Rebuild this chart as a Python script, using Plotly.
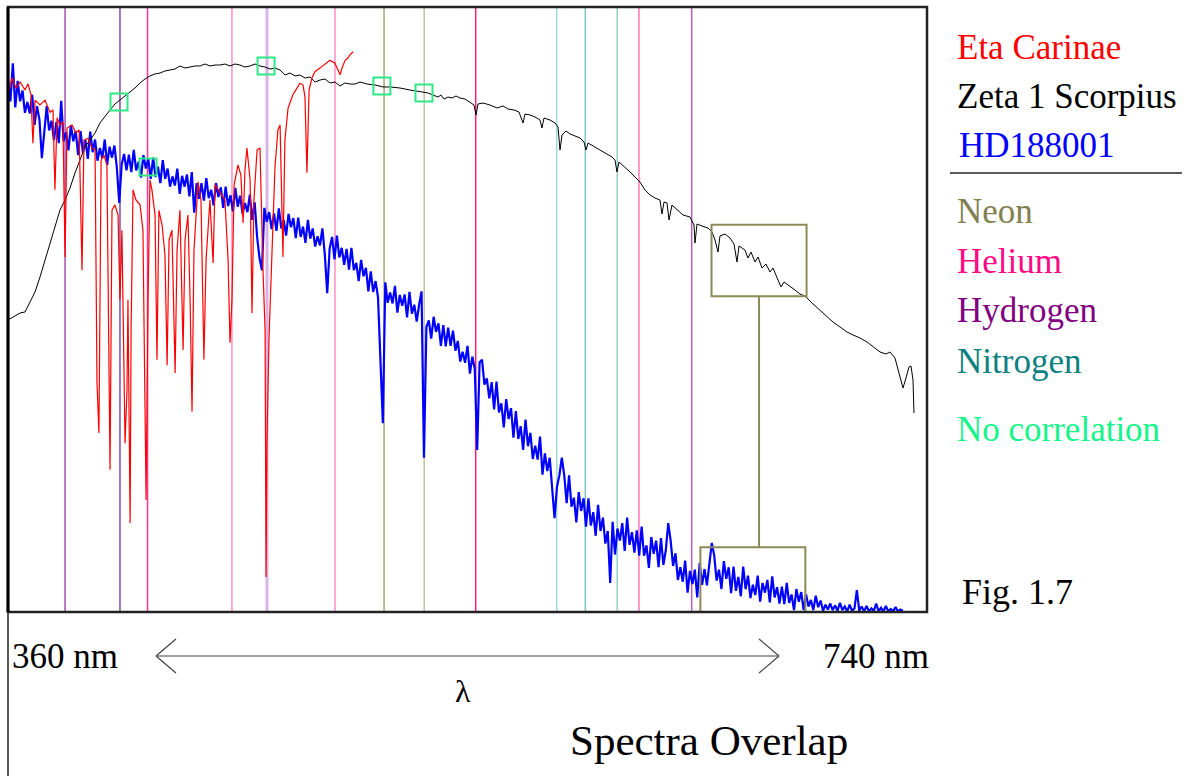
import plotly.graph_objects as go

# ---------------- data (wavelength in nm, relative flux 0-100) ----------------
blue_nm = list(range(360, 731))
blue_flux = [
    88.0, 84.4, 90.7, 83.4, 87.8, 84.4, 86.2, 82.5, 84.3, 82.4,
    85.5, 80.5, 83.6, 81.4, 75.0, 79.1, 83.6, 79.6, 81.2, 78.0,
    81.0, 77.5, 84.5, 77.8, 79.3, 76.3, 80.5, 77.8, 79.5, 75.5,
    79.5, 75.9, 78.0, 74.9, 79.4, 76.0, 78.1, 74.6, 76.7, 75.0,
    78.1, 73.9, 76.9, 75.1, 77.1, 73.5, 67.6, 74.0, 75.7, 73.0,
    75.6, 72.7, 76.4, 73.0, 74.4, 71.8, 75.5, 73.3, 74.9, 71.6,
    75.1, 71.9, 73.6, 70.9, 74.7, 71.6, 73.3, 70.3, 72.0, 70.5,
    73.3, 69.1, 72.1, 70.3, 72.3, 68.7, 72.7, 66.0, 70.9, 68.3,
    70.9, 68.0, 71.7, 68.4, 69.8, 67.2, 70.9, 68.6, 70.2, 66.8,
    70.3, 67.1, 68.9, 66.2, 70.1, 67.0, 68.8, 65.8, 67.6, 66.1,
    69.0, 64.8, 67.7, 62.0, 58.5, 56.5, 66.8, 64.5, 66.1, 63.3,
    65.9, 63.0, 66.7, 63.4, 64.8, 62.2, 65.8, 63.6, 65.1, 61.8,
    65.2, 62.0, 63.7, 61.0, 64.8, 61.7, 63.4, 60.4, 62.1, 60.6,
    63.4, 59.1, 52.7, 60.1, 62.0, 58.3, 62.2, 58.6, 60.2, 57.4,
    60.0, 56.6, 60.2, 56.5, 57.7, 54.7, 58.2, 55.5, 56.9, 53.0,
    56.3, 52.9, 54.7, 52.0, 40.0, 31.2, 54.5, 51.1, 52.8, 51.0,
    53.9, 49.5, 52.4, 50.6, 52.5, 48.7, 52.9, 49.3, 50.8, 48.0,
    50.8, 53.0, 25.5, 47.1, 48.2, 45.2, 48.8, 46.3, 47.7, 44.0,
    47.4, 43.9, 47.0, 44.0, 46.5, 43.2, 44.8, 41.4, 43.0, 41.2,
    44.0, 39.4, 42.2, 40.2, 26.8, 41.3, 41.7, 37.6, 38.6, 35.3,
    38.0, 33.5, 38.1, 33.0, 34.5, 30.5, 35.2, 31.9, 33.7, 28.8,
    33.2, 28.6, 30.7, 26.8, 31.8, 27.4, 29.6, 25.3, 27.5, 25.2,
    29.0, 22.7, 26.2, 23.3, 25.5, 20.0, 15.5, 20.7, 22.6, 25.5,
    22.6, 18.0, 22.6, 17.4, 18.9, 14.8, 19.8, 16.7, 18.8, 14.1,
    18.8, 14.3, 16.5, 12.6, 17.7, 13.4, 15.6, 11.3, 13.4, 4.8,
    14.9, 9.5, 13.8, 11.8, 14.7, 10.1, 15.6, 11.1, 13.2, 9.8,
    13.5, 9.3, 14.1, 9.3, 11.0, 7.3, 12.4, 9.6, 11.8, 7.4,
    12.2, 7.8, 10.2, 14.7, 11.8, 7.6, 9.7, 5.3, 7.4, 5.0,
    8.5, 3.2, 6.8, 4.6, 7.0, 2.4, 8.1, 4.5, 7.1, 4.4,
    8.4, 11.4, 9.4, 5.2, 7.0, 3.8, 8.4, 5.5, 7.4, 3.1,
    7.5, 3.5, 5.8, 2.6, 7.5, 3.8, 6.0, 2.3, 4.5, 2.8,
    6.0, 1.7, 4.8, 3.2, 5.3, 1.6, 5.9, 2.4, 4.1, 1.4,
    4.2, 1.3, 4.8, 1.5, 2.9, 0.3, 3.8, 1.7, 3.3, 0.3,
    2.9, 0.9, 2.0, 0.3, 2.7, 0.8, 1.9, 0.2, 1.2, 0.4,
    1.4, 0.3, 1.1, 0.2, 1.5, 0.3, 0.9, 0.1, 1.2, 0.2,
    0.6, 3.6, 0.2, 0.9, 0.1, 1.0, 0.1, 0.6, 0.2, 1.4,
    0.1, 0.7, 0.1, 1.0, 0.1, 0.5, 0.1, 0.8, 0.1, 0.4,
    0.2,
]

red_nm = [
    360.0, 361.7, 363.3, 365.0, 367.0, 368.3, 369.5, 370.3, 371.2, 373.2,
    375.3, 377.4, 378.6, 379.4, 380.3, 381.5, 382.7, 383.6, 384.4, 386.5,
    388.1, 389.4, 390.6, 391.4, 393.1, 394.7, 396.0, 396.8, 397.6, 398.5,
    399.7, 400.9, 402.2, 403.0, 404.2, 405.5, 406.3, 407.1, 408.4, 409.2,
    409.6, 410.5, 410.9, 411.7, 412.9, 414.6, 415.8, 417.1, 417.9, 418.7,
    419.5, 420.8, 421.6, 422.4, 423.7, 424.9, 425.8, 426.6, 427.8, 429.1,
    429.9, 431.1, 432.4, 433.2, 434.4, 435.3, 436.1, 436.9, 438.6, 439.8,
    441.0, 441.9, 443.5, 444.8, 445.6, 447.7, 449.7, 451.0, 451.8, 452.6,
    453.5, 455.1, 456.3, 457.2, 458.0, 458.8, 460.1, 460.9, 461.7, 463.0,
    464.2, 465.4, 466.3, 466.7, 467.1, 467.9, 469.2, 470.4, 471.6, 472.5,
    473.7, 474.5, 475.8, 477.8, 479.5, 480.7, 482.0, 482.8, 483.6, 484.5,
    485.7, 486.9, 489.0, 491.1, 493.1, 495.2, 496.5, 497.3, 498.1, 499.4,
    500.6, 501.4, 502.7,
]
red_flux = [
    85.5, 88.3, 86.6, 87.6, 86.3, 87.3, 85.5, 77.5, 84.6, 83.8,
    84.6, 82.6, 83.0, 69.8, 81.7, 80.5, 81.0, 58.7, 80.0, 80.5,
    79.2, 79.7, 56.5, 78.0, 78.3, 76.7, 76.4, 37.9, 29.6, 74.7,
    75.5, 73.9, 23.5, 66.4, 67.3, 65.6, 51.6, 63.1, 27.9, 36.7,
    51.6, 14.7, 46.6, 69.8, 68.1, 67.3, 63.1, 18.5, 51.6, 71.4,
    69.8, 65.6, 41.7, 66.4, 64.0, 59.0, 40.8, 61.5, 63.1, 39.5,
    59.8, 66.4, 43.3, 61.5, 65.6, 51.6, 33.1, 59.8, 71.1, 68.1,
    41.7, 58.2, 68.1, 57.7, 70.6, 69.4, 68.1, 58.2, 44.5, 51.6,
    70.6, 73.9, 72.2, 64.3, 73.1, 76.7, 71.4, 49.4, 68.1, 76.4,
    76.7, 56.9, 46.6, 5.8, 28.4, 45.0, 61.5, 73.6, 79.7, 80.5,
    58.7, 78.0, 83.3, 85.5, 86.6, 87.4, 87.1, 85.1, 72.6, 86.3,
    88.3, 89.3, 89.9, 90.6, 91.2, 90.7, 89.6, 88.8, 89.9, 91.2,
    91.6, 92.1, 92.6,
]

black_nm = [
    360.00, 362.89, 364.96, 367.03, 368.27, 369.10, 371.16, 373.23, 375.30, 377.37,
    379.43, 381.50, 383.57, 385.64, 387.70, 389.77, 391.84, 393.91, 395.97, 398.04,
    400.11, 402.18, 404.24, 406.31, 408.38, 410.45, 412.51, 414.58, 416.65, 418.72,
    420.78, 422.85, 424.92, 426.99, 429.05, 431.12, 433.19, 435.26, 437.32, 439.39,
    441.46, 443.53, 445.59, 447.66, 449.73, 451.79, 453.86, 455.93, 458.00, 460.06,
    462.13, 464.20, 466.27, 468.33, 470.40, 472.47, 474.54, 476.60, 478.67, 480.74,
    482.81, 484.87, 486.94, 489.01, 491.08, 493.14, 495.21, 497.28, 499.35, 501.41,
    503.48, 505.55, 508.44, 511.75, 515.06, 517.95, 522.09, 526.22, 530.36, 533.67,
    535.73, 537.80, 539.04, 540.28, 541.94, 543.59, 545.24, 546.90, 548.97, 551.03,
    552.69, 553.51, 554.34, 556.41, 559.30, 562.20, 564.68, 566.75, 569.23, 571.29,
    572.12, 572.95, 573.78, 575.84, 577.91, 579.98, 580.80, 581.63, 584.11, 586.18,
    587.42, 588.25, 589.07, 590.73, 592.38, 594.45, 596.52, 598.17, 599.00, 599.82,
    601.89, 604.78, 607.68, 609.74, 610.98, 611.81, 612.64, 615.12, 617.19, 619.25,
    621.32, 623.39, 625.46, 627.53, 629.59, 630.42, 631.25, 632.49, 633.32, 634.56,
    637.04, 639.11, 642.00, 643.65, 644.07, 644.90, 646.96, 649.44, 651.10, 652.34,
    653.58, 654.40, 656.47, 658.54, 660.19, 661.43, 662.26, 664.74, 665.98, 667.22,
    668.88, 670.12, 671.77, 673.42, 675.08, 676.32, 678.39, 679.63, 680.87, 683.35,
    685.42, 687.48, 689.55, 692.44, 695.75, 698.65, 701.13, 704.02, 706.92, 709.40,
    712.29, 715.19, 717.67, 720.56, 723.04, 724.69, 726.76, 728.42, 730.07, 731.31,
    732.55, 733.38, 734.21, 734.62,
]
black_flux = [
    48.26, 48.93, 49.42, 49.59, 50.58, 51.07, 52.89, 55.37, 58.18, 60.99,
    63.80, 66.45, 68.10, 70.08, 72.56, 74.71, 76.86, 78.02, 79.17, 80.83,
    81.98, 82.98, 83.97, 84.63, 85.29, 85.95, 86.61, 87.44, 88.10, 88.60,
    88.93, 89.09, 89.42, 89.59, 89.75, 90.25, 89.92, 90.08, 90.25, 90.25,
    90.58, 90.25, 90.41, 90.41, 90.58, 90.25, 90.58, 90.41, 90.08, 90.25,
    90.58, 90.25, 90.08, 89.75, 89.92, 89.59, 88.76, 89.09, 88.60, 88.76,
    88.26, 88.43, 87.60, 87.93, 88.10, 87.44, 87.60, 86.94, 87.44, 87.27,
    87.27, 87.60, 87.27, 87.11, 86.78, 86.78, 86.61, 86.28, 85.95, 85.79,
    85.45, 85.12, 85.45, 84.79, 85.12, 84.96, 85.29, 84.96, 84.79, 84.30,
    83.80, 82.15, 83.97, 84.13, 83.80, 83.31, 83.64, 83.14, 82.98, 82.64,
    81.65, 80.83, 82.31, 82.15, 81.82, 81.32, 80.00, 81.65, 81.32, 80.83,
    80.17, 76.36, 78.84, 79.50, 79.01, 78.68, 78.35, 77.69, 76.36, 77.52,
    77.02, 76.36, 75.70, 75.21, 74.71, 72.73, 74.38, 73.55, 72.73, 71.90,
    71.07, 69.75, 68.93, 68.43, 68.10, 65.79, 67.77, 67.60, 64.79, 67.27,
    66.45, 65.62, 65.29, 63.97, 60.99, 64.13, 63.80, 63.47, 62.81, 61.49,
    59.50, 62.15, 62.48, 61.82, 60.83, 57.85, 60.50, 59.83, 58.51, 59.50,
    57.85, 58.68, 56.86, 57.52, 56.20, 56.86, 54.88, 53.72, 54.55, 53.88,
    53.22, 52.56, 52.23, 51.07, 49.92, 48.93, 47.93, 47.11, 46.28, 45.79,
    45.29, 44.63, 43.80, 42.98, 42.64, 42.98, 41.98, 39.67, 37.02, 38.68,
    40.50, 40.66, 38.35, 32.89,
]

# reference emission lines (nm)
neon_nm = [515.5, 532.1]
helium_nm = [417.7, 452.6, 495.2, 553.4, 620.9]
hydrogen_nm = [383.6, 406.3, 467.1, 642.7]
nitrogen_nm = [586.9, 598.7, 611.9]

# features with no correlation
nocorr_nm = [405.9, 417.9, 466.7, 514.6, 532.0]
nocorr_flux = [84.3, 73.55, 90.25, 86.94, 85.79]

# highlighted comparison regions
zoom_upper_nm = [650.9, 690.2]
zoom_upper_flux = [52.2, 64.0]
zoom_lower_nm = [646.3, 689.7]
zoom_lower_flux = [0.0, 10.7]

# ---------------- styles ----------------
SERIF = "Liberation Serif, Times New Roman, serif"
line_styles = {
    "neon": [("#a8a87c", 1.5), ("#c2c2a0", 1.5)],
    "helium": [("#ff3399", 1.5), ("#ff8cc6", 1.5), ("#ff8cc6", 1.5), ("#ff1f7f", 1.5), ("#ff74b4", 1.5)],
    "hydrogen": [("#a24fae", 1.5), ("#7f4c9e", 1.5), ("#d9b3e6", 3), ("#b060c0", 1.5)],
    "nitrogen": [("#a2d8d8", 1.5), ("#7fc6c6", 1.5), ("#92d0d0", 1.5)],
}
BOX = "#8c8a56"

# plot-area geometry in page pixels
L, R, T, B = 8, 927, 7, 612
W, H = 1186, 776


def px(x):
    return (x - L) / (R - L)


def py(y):
    return (B - y) / (B - T)


fig = go.Figure()
fig.add_trace(go.Scatter(x=blue_nm, y=blue_flux, mode="lines", name="HD188001",
                         line=dict(color="#0000ff", width=2.2)))
fig.add_trace(go.Scatter(x=black_nm, y=black_flux, mode="lines", name="Zeta 1 Scorpius",
                         line=dict(color="#000000", width=1)))
fig.add_trace(go.Scatter(x=red_nm, y=red_flux, mode="lines", name="Eta Carinae",
                         line=dict(color="#ff0000", width=1.2)))
fig.add_trace(go.Scatter(x=nocorr_nm, y=nocorr_flux, mode="markers", name="No correlation",
                         marker=dict(symbol="square-open", size=17, color="#2ee887",
                                     line=dict(width=2, color="#2ee887"))))

shapes = []
for key, arr in (("hydrogen", hydrogen_nm), ("helium", helium_nm),
                 ("neon", neon_nm), ("nitrogen", nitrogen_nm)):
    for nm, (col, wd) in zip(arr, line_styles[key]):
        shapes.append(dict(type="line", xref="x", yref="paper", x0=nm, x1=nm, y0=0, y1=1,
                           line=dict(color=col, width=wd), layer="below"))

# comparison boxes and connector
shapes.append(dict(type="rect", xref="x", yref="y", x0=zoom_upper_nm[0], x1=zoom_upper_nm[1],
                   y0=zoom_upper_flux[0], y1=zoom_upper_flux[1], line=dict(color=BOX, width=2)))
shapes.append(dict(type="rect", xref="x", yref="y", x0=zoom_lower_nm[0], x1=zoom_lower_nm[1],
                   y0=zoom_lower_flux[0], y1=zoom_lower_flux[1], line=dict(color=BOX, width=2)))
mid = (zoom_upper_nm[0] + zoom_upper_nm[1]) / 2
shapes.append(dict(type="line", xref="x", yref="y", x0=mid, x1=mid,
                   y0=zoom_lower_flux[1], y1=zoom_upper_flux[0], line=dict(color=BOX, width=2)))

# frame
shapes.append(dict(type="rect", xref="paper", yref="paper", x0=0, x1=1, y0=0, y1=1,
                   line=dict(color="#222222", width=2.5)))
shapes.append(dict(type="line", xref="paper", yref="paper", x0=0, x1=0, y0=0, y1=1,
                   line=dict(color="#000000", width=3)))
shapes.append(dict(type="line", xref="paper", yref="paper", x0=0, x1=0, y0=py(H), y1=0,
                   line=dict(color="#222222", width=1.5)))

# legend separator
shapes.append(dict(type="line", xref="paper", yref="paper", x0=px(950), x1=px(1182),
                   y0=py(173), y1=py(173), line=dict(color="#222222", width=1.5)))

# double arrow
ay = 656
ac = "#444444"
shapes.append(dict(type="line", xref="paper", yref="paper", x0=px(156), x1=px(779),
                   y0=py(ay), y1=py(ay), line=dict(color=ac, width=1.2)))
for tip, dx in ((156, 20), (779, -20)):
    for dy in (-17, 17):
        shapes.append(dict(type="line", xref="paper", yref="paper", x0=px(tip), x1=px(tip + dx),
                           y0=py(ay), y1=py(ay + dy), line=dict(color=ac, width=1.2)))

annotations = []


def txt(text, x, y, size, color="#000000", anchor="left"):
    annotations.append(dict(text=text, xref="paper", yref="paper", x=px(x), y=py(y),
                            xanchor=anchor, yanchor="middle", showarrow=False,
                            font=dict(family=SERIF, size=size, color=color)))


txt("Eta Carinae", 955, 48, 35, "#ff0000")
txt("Zeta 1 Scorpius", 955, 97, 35, "#000000")
txt("HD188001", 957, 146, 35, "#0000ff")
txt("Neon", 955, 211, 35, "#808050")
txt("Helium", 955, 261, 35, "#ff0a84")
txt("Hydrogen", 955, 311, 35, "#800080")
txt("Nitrogen", 955, 361, 35, "#0a8080")
txt("No correlation", 955, 429, 35, "#14f58a")
txt("Fig. 1.7", 960, 592, 36, "#000000")
txt("360 nm", 10, 656, 35)
txt("740 nm", 821, 656, 35)
txt("λ", 463, 691, 32, anchor="center")
txt("Spectra Overlap", 568, 740, 43)

fig.update_layout(
    width=W, height=H,
    margin=dict(l=L, r=W - R, t=T, b=H - B),
    paper_bgcolor="#ffffff", plot_bgcolor="#ffffff",
    showlegend=False,
    xaxis=dict(range=[360, 740], showgrid=False, zeroline=False, showticklabels=False,
               ticks="", showline=False),
    yaxis=dict(range=[0, 100], showgrid=False, zeroline=False, showticklabels=False,
               ticks="", showline=False),
    shapes=shapes,
    annotations=annotations,
)

fig.write_html("out.html", config={"displayModeBar": False},
               post_script="document.body.style.margin='0px';document.body.style.padding='0px';")
